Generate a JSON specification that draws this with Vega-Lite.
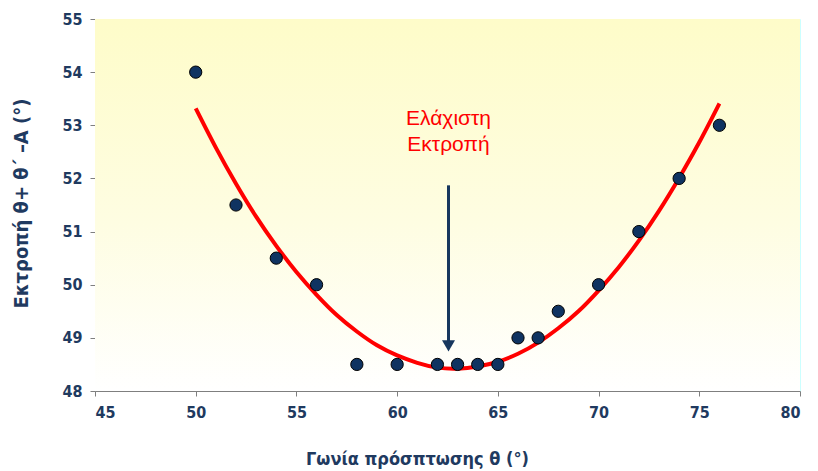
{
  "$schema": "https://vega.github.io/schema/vega-lite/v6.json",
  "width": 705,
  "height": 372,
  "autosize": "none",
  "padding": {"left": 95, "top": 19, "right": 18, "bottom": 80},
  "background": "#ffffff",
  "config": {
    "view": {"stroke": null},
    "axis": {
      "labelFont": "'Liberation Sans Narrow', 'DejaVu Sans Condensed', 'Liberation Sans'",
      "labelFontWeight": "bold",
      "labelFontSize": 16,
      "labelColor": "#1f3a60",
      "titleFont": "'Liberation Sans Narrow', 'DejaVu Sans Condensed', 'Liberation Sans'",
      "titleFontWeight": "bold",
      "titleFontSize": 20,
      "titleColor": "#1f3a60",
      "gridColor": "#ccffff",
      "gridOpacity": 1,
      "gridWidth": 1,
      "domainColor": "#7f7f7f",
      "tickColor": "#7f7f7f",
      "tickSize": 5
    }
  },
  "datasets": {
    "points": [
      {"theta": 50, "dev": 54},
      {"theta": 52, "dev": 51.5},
      {"theta": 54, "dev": 50.5},
      {"theta": 56, "dev": 50},
      {"theta": 58, "dev": 48.5},
      {"theta": 60, "dev": 48.5},
      {"theta": 62, "dev": 48.5},
      {"theta": 63, "dev": 48.5},
      {"theta": 64, "dev": 48.5},
      {"theta": 65, "dev": 48.5},
      {"theta": 66, "dev": 49},
      {"theta": 67, "dev": 49},
      {"theta": 68, "dev": 49.5},
      {"theta": 70, "dev": 50},
      {"theta": 72, "dev": 51},
      {"theta": 74, "dev": 52},
      {"theta": 76, "dev": 53}
    ],
    "fit": [
      {"theta": 50, "dev": 53.32},
      {"theta": 51, "dev": 52.58},
      {"theta": 52, "dev": 51.9},
      {"theta": 53, "dev": 51.28},
      {"theta": 54, "dev": 50.73},
      {"theta": 55, "dev": 50.24},
      {"theta": 56, "dev": 49.81},
      {"theta": 57, "dev": 49.43},
      {"theta": 58, "dev": 49.12},
      {"theta": 59, "dev": 48.86},
      {"theta": 60, "dev": 48.67},
      {"theta": 61, "dev": 48.53},
      {"theta": 62, "dev": 48.44},
      {"theta": 63, "dev": 48.42},
      {"theta": 64, "dev": 48.46},
      {"theta": 65, "dev": 48.55},
      {"theta": 66, "dev": 48.7},
      {"theta": 67, "dev": 48.91},
      {"theta": 68, "dev": 49.18},
      {"theta": 69, "dev": 49.5},
      {"theta": 70, "dev": 49.89},
      {"theta": 71, "dev": 50.33},
      {"theta": 72, "dev": 50.83},
      {"theta": 73, "dev": 51.39},
      {"theta": 74, "dev": 52.01},
      {"theta": 75, "dev": 52.68},
      {"theta": 76, "dev": 53.41}
    ],
    "arrow": [
      {"theta": 62.55, "y1": 51.87, "y2": 48.85}
    ],
    "label": [
      {"theta": 62.55, "dev": 53.12, "text": "Ελάχιστη"},
      {"theta": 62.55, "dev": 52.62, "text": "Εκτροπή"}
    ]
  },
  "layer": [
    {
      "data": {"values": [{}]},
      "mark": {
        "type": "rect",
        "color": {
          "gradient": "linear",
          "x1": 0, "y1": 0, "x2": 0, "y2": 1,
          "stops": [
            {"offset": 0, "color": "#fefcc9"},
            {"offset": 0.55, "color": "#fefde2"},
            {"offset": 1, "color": "#ffffff"}
          ]
        }
      },
      "encoding": {
        "x": {"datum": 45, "type": "quantitative", "scale": {"domain": [45, 80]},
          "axis": {"values": [45, 50, 55, 60, 65, 70, 75, 80], "format": "d", "title": "Γωνία πρόσπτωσης  θ (°)", "titleFontSize": 18, "grid": true, "labelPadding": 8, "titleX": 322, "titleY": 68, "titleBaseline": "middle", "titleAlign": "center"}},
        "x2": {"datum": 80},
        "y": {"datum": 48, "type": "quantitative", "scale": {"domain": [48, 55]},
          "axis": {"values": [48, 49, 50, 51, 52, 53, 54, 55], "format": "d", "title": "Εκτροπή θ+ θ΄ –Α (°)", "grid": true, "labelPadding": 8, "titleX": -74, "titleY": 184, "titleAngle": -90, "titleBaseline": "middle", "titleAlign": "center"}},
        "y2": {"datum": 55}
      }
    },
    {
      "data": {"name": "fit"},
      "mark": {"type": "line", "color": "#ff0000", "strokeWidth": 4, "interpolate": "natural"},
      "encoding": {
        "x": {"field": "theta", "type": "quantitative"},
        "y": {"field": "dev", "type": "quantitative"}
      }
    },
    {
      "data": {"name": "points"},
      "mark": {"type": "point", "shape": "circle", "filled": true, "fill": "#0f3361", "stroke": "#000000", "strokeWidth": 1, "size": 150, "opacity": 1},
      "encoding": {
        "x": {"field": "theta", "type": "quantitative"},
        "y": {"field": "dev", "type": "quantitative"}
      }
    },
    {
      "data": {"name": "arrow"},
      "mark": {"type": "rule", "color": "#17375e", "strokeWidth": 3},
      "encoding": {
        "x": {"field": "theta", "type": "quantitative"},
        "y": {"field": "y1", "type": "quantitative"},
        "y2": {"field": "y2"}
      }
    },
    {
      "data": {"name": "arrow"},
      "mark": {"type": "point", "shape": "triangle-down", "filled": true, "color": "#17375e", "size": 170, "opacity": 1},
      "encoding": {
        "x": {"field": "theta", "type": "quantitative"},
        "y": {"field": "y2", "type": "quantitative"}
      }
    },
    {
      "data": {"name": "label"},
      "mark": {"type": "text", "color": "#ff0000", "font": "Liberation Sans", "fontSize": 21, "align": "center", "baseline": "middle"},
      "encoding": {
        "x": {"field": "theta", "type": "quantitative"},
        "y": {"field": "dev", "type": "quantitative"},
        "text": {"field": "text"}
      }
    }
  ]
}
